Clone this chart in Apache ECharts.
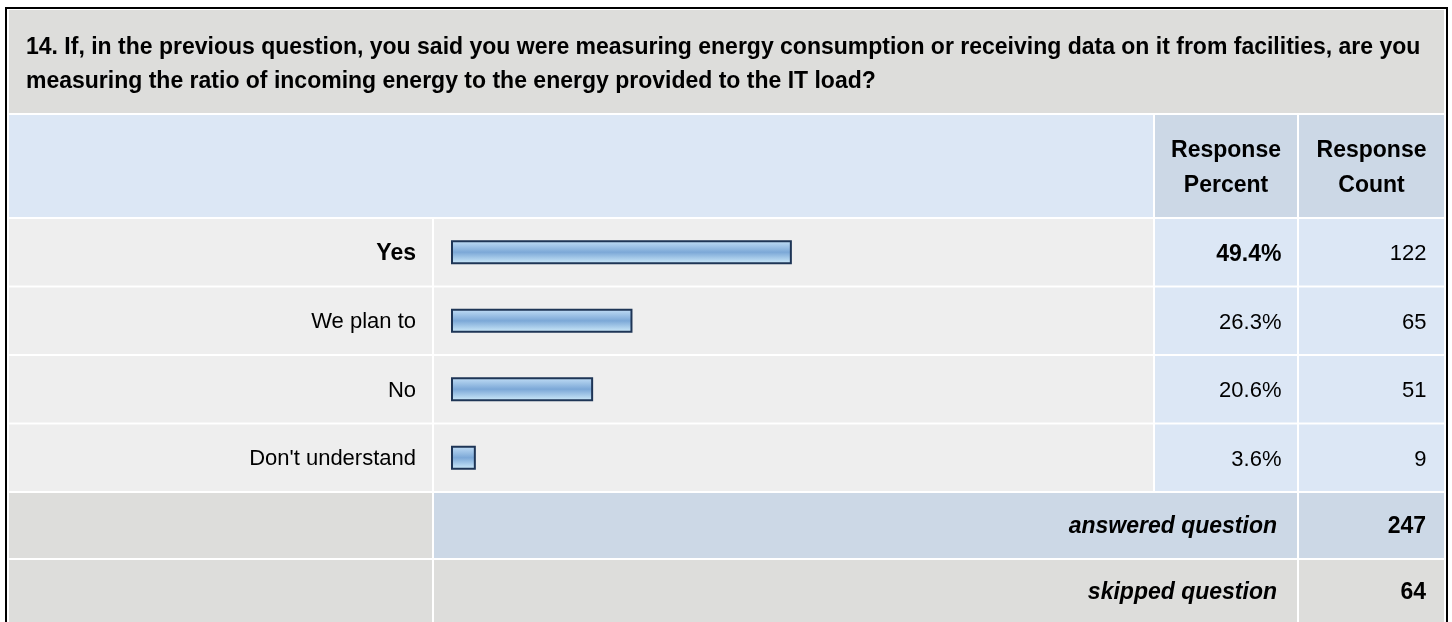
<!DOCTYPE html>
<html>
<head>
<meta charset="utf-8">
<title>Survey question 14</title>
<script src="https://cdn.jsdelivr.net/npm/echarts@6/dist/echarts.min.js"></script>
<style>
  html, body { margin: 0; padding: 0; background: #ffffff; }
  #chart { width: 1452px; height: 622px; }
</style>
</head>
<body>
<div id="chart"></div>
<script>
// Answer choices and their results
const categories = ['Yes', 'We plan to', 'No', "Don't understand"];
const percents = [49.4, 26.3, 20.6, 3.6];
const counts = [122, 65, 51, 9];
const answeredCount = 247;
const skippedCount = 64;

// Texts of the table
const questionLines = [
  '14. If, in the previous question, you said you were measuring energy consumption or receiving data on it from facilities, are you',
  'measuring the ratio of incoming energy to the energy provided to the IT load?'
];
const percentHeader = ['Response', 'Percent'];
const countHeader = ['Response', 'Count'];
const answeredLabel = 'answered question';
const skippedLabel = 'skipped question';

// Layout of the table
const FONT = "'Liberation Sans', Arial, Helvetica, sans-serif";
const FS = 22;       // regular text
const FSB = 23;      // bold text
const L = 9, R = 1444;               // outer cell edges
const colLabelEnd = 432;             // end of answer-label column
const colBarStart = 434, colBarEnd = 1153;
const colPctStart = 1155, colPctEnd = 1297;
const colCntStart = 1299;
const titleTop = 10, titleBottom = 113;
const headTop = 115, headBottom = 217;
const rowsTop = 218, rowH = 68.5;
const rowsBottom = rowsTop + rowH * categories.length;
const ansTop = 493, ansBottom = 558;
const skipTop = 560, skipBottom = 640;

const C_GRAY = '#dddddb';
const C_ROW = '#eeeeee';
const C_BLUE = '#dce7f5';
const C_BLUE2 = '#ccd8e6';

function rect(x1, y1, x2, y2, fill) {
  return { type: 'rect', z: 0, silent: true,
    shape: { x: x1, y: y1, width: x2 - x1, height: y2 - y1 },
    style: { fill: fill } };
}
function text(x, y, str, opts) {
  return { type: 'text', z: 20, silent: true, x: x, y: y,
    style: Object.assign({ text: str, fill: '#000', font: 'bold ' + FSB + 'px ' + FONT,
      verticalAlign: 'middle', align: 'left' }, opts || {}) };
}

const graphics = [];
// outer frame
graphics.push({ type: 'rect', z: 1, silent: true,
  shape: { x: 6, y: 8, width: 1441, height: 700 },
  style: { fill: null, stroke: '#000', lineWidth: 2 } });
// title cell
graphics.push(rect(L, titleTop, R, titleBottom, C_GRAY));
// header row
graphics.push(rect(L, headTop, colBarEnd, headBottom, C_BLUE));
graphics.push(rect(colPctStart, headTop, colPctEnd, headBottom, C_BLUE2));
graphics.push(rect(colCntStart, headTop, R, headBottom, C_BLUE2));
// answer rows
categories.forEach(function (c, i) {
  const y1 = rowsTop + rowH * i + 1, y2 = rowsTop + rowH * (i + 1) - 1;
  graphics.push(rect(L, y1, colLabelEnd, y2, C_ROW));
  graphics.push(rect(colBarStart, y1, colBarEnd, y2, C_ROW));
  graphics.push(rect(colPctStart, y1, colPctEnd, y2, C_BLUE));
  graphics.push(rect(colCntStart, y1, R, y2, C_BLUE));
});
// answered / skipped rows
graphics.push(rect(L, ansTop, colLabelEnd, ansBottom, C_GRAY));
graphics.push(rect(colBarStart, ansTop, colPctEnd, ansBottom, C_BLUE2));
graphics.push(rect(colCntStart, ansTop, R, ansBottom, C_BLUE2));
graphics.push(rect(L, skipTop, colLabelEnd, skipBottom, C_GRAY));
graphics.push(rect(colBarStart, skipTop, colPctEnd, skipBottom, C_GRAY));
graphics.push(rect(colCntStart, skipTop, R, skipBottom, C_GRAY));

// question text
graphics.push(text(26, 48, questionLines[0]));
graphics.push(text(26, 82, questionLines[1]));
// column headers
const hMid = (headTop + headBottom) / 2 + 2;
graphics.push(text((colPctStart + colPctEnd) / 2, hMid, percentHeader.join('\n'),
  { align: 'center', lineHeight: 35 }));
graphics.push(text((colCntStart + R) / 2, hMid, countHeader.join('\n'),
  { align: 'center', lineHeight: 35 }));
// totals
const ansMid = (ansTop + ansBottom) / 2 + 1.5, skipMid = (skipTop + 622) / 2 + 1.5;
graphics.push(text(1277, ansMid, answeredLabel,
  { font: 'italic bold ' + FSB + 'px ' + FONT, align: 'right' }));
graphics.push(text(1426, ansMid, String(answeredCount), { align: 'right' }));
graphics.push(text(1277, skipMid, skippedLabel,
  { font: 'italic bold ' + FSB + 'px ' + FONT, align: 'right' }));
graphics.push(text(1426, skipMid, String(skippedCount), { align: 'right' }));

const barFill = new echarts.graphic.LinearGradient(0, 0, 0, 1, [
  { offset: 0, color: '#c4e0f7' },
  { offset: 0.5, color: '#7ca8d7' },
  { offset: 1, color: '#d2eefc' }
]);

function rowAxis(gridIndex, showLabels) {
  return {
    type: 'category', gridIndex: gridIndex, data: categories, inverse: true, z: 10,
    axisLine: { show: false }, axisTick: { show: false }, splitLine: { show: false },
    axisLabel: showLabels ? {
      show: true, margin: 35, fontSize: FS, fontFamily: FONT, color: '#000',
      formatter: function (v, i) { return (i === 0 ? '{b|' : '{n|') + v + '}'; },
      rich: {
        b: { fontSize: FSB, fontFamily: FONT, fontWeight: 'bold', color: '#000', padding: [3, 0, 0, 0] },
        n: { fontSize: FS, fontFamily: FONT, color: '#000', padding: [3, 0, 0, 0] }
      }
    } : { show: false }
  };
}
function valueAxis(gridIndex, max) {
  return { type: 'value', gridIndex: gridIndex, min: 0, max: max, show: false,
    splitLine: { show: false } };
}
// right-aligned value labels for the percent and count columns (first row in bold)
function columnData(values, fmt) {
  return values.map(function (v, i) {
    return {
      value: [1, i],
      label: {
        formatter: fmt(v),
        fontWeight: i === 0 ? 'bold' : 'normal',
        fontSize: i === 0 ? FSB : FS
      }
    };
  });
}
const textSeries = {
  type: 'scatter', z: 10, symbolSize: 1,
  itemStyle: { color: 'rgba(0,0,0,0)', opacity: 1 },
  label: { show: true, position: 'left', distance: 0, fontSize: FS,
    fontFamily: FONT, color: '#000', opacity: 1, offset: [0, 2] },
  emphasis: { disabled: true }
};

const chart = echarts.init(document.getElementById('chart'), null, { renderer: 'canvas' });
chart.setOption({
  animation: false,
  backgroundColor: '#ffffff',
  graphic: { elements: graphics },
  grid: [
    { left: 451, top: rowsTop, width: 690, height: rowsBottom - rowsTop },
    { left: colPctStart, top: rowsTop, width: 1282 - colPctStart, height: rowsBottom - rowsTop },
    { left: colCntStart, top: rowsTop, width: 1427 - colCntStart, height: rowsBottom - rowsTop }
  ],
  xAxis: [valueAxis(0, 100), valueAxis(1, 1), valueAxis(2, 1)],
  yAxis: [rowAxis(0, true), rowAxis(1, false), rowAxis(2, false)],
  series: [
    {
      type: 'bar', xAxisIndex: 0, yAxisIndex: 0, z: 10,
      data: percents, barWidth: 24,
      itemStyle: { color: barFill, borderColor: '#1e3556', borderWidth: 2 },
      emphasis: { disabled: true }
    },
    Object.assign({}, textSeries, {
      xAxisIndex: 1, yAxisIndex: 1,
      data: columnData(percents, function (v) { return v.toFixed(1) + '%'; })
    }),
    Object.assign({}, textSeries, {
      xAxisIndex: 2, yAxisIndex: 2,
      data: counts.map(function (v, i) {
        return { value: [1, i], label: { formatter: String(v) } };
      })
    })
  ]
});
</script>
</body>
</html>
